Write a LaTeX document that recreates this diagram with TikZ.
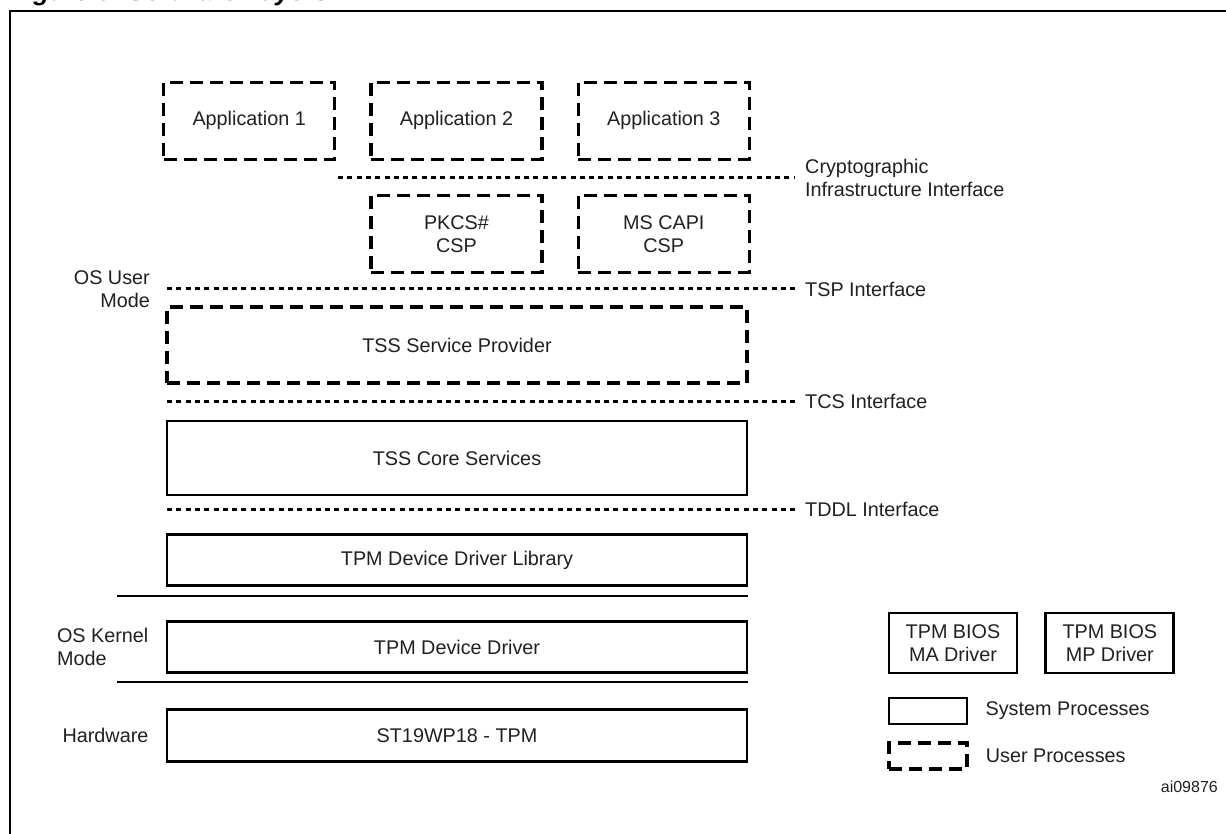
\documentclass[tikz,border=0pt]{standalone}
\usepackage{fontspec}
\setmainfont{Liberation Sans}
\usetikzlibrary{positioning}
\definecolor{inktext}{HTML}{231F20}
\tikzset{every picture/.style={
  line join=miter               % Sharp box corners.
  }
}

\begin{document}
\begin{tikzpicture}[
    x=1pt, y=-1pt,
    font=\fontsize{19.8}{23}\selectfont,
    text=inktext,
    node distance=33pt,
    sysbox/.style={
      draw,
      line width=2.8pt,
      inner sep=0pt,
      align=center
    },
    usrbox/.style={
      sysbox,
      line width=3.3pt,
      dash pattern=on 13pt off 7pt
    },
    layer/.style={minimum width=580pt},
    small/.style={minimum width=171pt, minimum height=77pt},
    iface/.style={line width=3pt, dash pattern=on 5pt off 4.3pt},
    sepline/.style={line width=2.6pt},
    modelabel/.style={inner sep=0pt, align=#1}
    ]

    \useasboundingbox (0,0) rectangle (1226,834);

    % Frame and (cut) caption.
    \draw[line width=2.5pt] (10,834) -- (10,11) -- (1226,11);
    \node[anchor=base west, inner sep=0pt, text=black,
      font=\fontsize{26}{30}\selectfont\bfseries\itshape]
      (title) at (10,1) {Figure 6. Software Layers};

    % Crypto providers and applications.
    \node[usrbox,small] (pkcs) at (456.5,234) {PKCS\#\\CSP};
    \node[usrbox,small,right=of pkcs] (capi) {MS CAPI\\CSP};
    \node[usrbox,small,above=of pkcs] (app2) {Application 2};
    \node[usrbox,small,left=of app2] (app1) {Application 1};
    \node[usrbox,small,above=of capi] (app3) {Application 3};

    % The TSS stack.
    \node[usrbox,layer,minimum height=76pt] (tsp) at (457,345)
      {TSS Service Provider};
    \node[sysbox,layer,minimum height=74pt,below=35pt of tsp] (tcs)
      {TSS Core Services};
    \node[sysbox,layer,minimum height=51pt,below=37pt of tcs] (ddl)
      {TPM Device Driver Library};
    \node[sysbox,layer,minimum height=51pt,below=33pt of ddl] (tdd)
      {TPM Device Driver};
    \node[sysbox,layer,minimum height=52pt,below=34pt of tdd] (chip)
      {ST19WP18 - TPM};

    % Interfaces between the layers.
    \coordinate (cryL) at (338,178);
    \coordinate (cryR) at (795,178);
    \coordinate (tspL) at (167,289);
    \coordinate (tspR) at (795,289);
    \coordinate (tcsL) at (167,401);
    \coordinate (tcsR) at (795,401);
    \coordinate (tddlL) at (167,509);
    \coordinate (tddlR) at (795,509);
    \draw[iface] (cryL) -- (cryR);
    \draw[iface] (tspL) -- (tspR);
    \draw[iface] (tcsL) -- (tcsR);
    \draw[iface] (tddlL) -- (tddlR);
    \node[modelabel=left,right=10pt of cryR] (crylab)
      {Cryptographic\\Infrastructure Interface};
    \node[modelabel=left,right=10pt of tspR] (tsplab) {TSP Interface};
    \node[modelabel=left,right=10pt of tcsR] (tcslab) {TCS Interface};
    \node[modelabel=left,right=10pt of tddlR] (tddllab) {TDDL Interface};

    % Mode boundaries and their labels.
    \coordinate (sepA) at (117,596);
    \coordinate (sepB) at (117,682);
    \draw[sepline] (sepA) -- (sepA -| ddl.east);
    \draw[sepline] (sepB) -- (sepB -| tdd.east);
    \node[modelabel=right,left=17pt of tspL] (usermode) {OS User\\Mode};
    \node[modelabel=left,left=17pt of tdd] (kernmode) {OS Kernel\\Mode};
    \node[modelabel=left,left=17pt of chip] (hwmode) {Hardware};

    % BIOS drivers.
    \node[sysbox,minimum width=128pt,minimum height=60pt] (madrv)
      at (953,643) {TPM BIOS\\MA Driver};
    \node[sysbox,minimum width=128pt,minimum height=60pt,right=26pt of madrv]
      (mpdrv) {TPM BIOS\\MP Driver};

    % Legend.
    \node[sysbox,minimum width=78pt,minimum height=26pt] (legsys)
      at (928,711) {};
    \node[usrbox,minimum width=78pt,minimum height=26pt,below=16pt of legsys]
      (legusr) {};
    \node[modelabel=left,right=17pt of legsys] (legsyslab) {System Processes};
    \node[modelabel=left,right=17pt of legusr] (legusrlab) {User Processes};

    \node[anchor=east, inner sep=0pt, font=\fontsize{16}{19}\selectfont]
      (figid) at (1218,787) {ai09876};
\end{tikzpicture}
\end{document}
